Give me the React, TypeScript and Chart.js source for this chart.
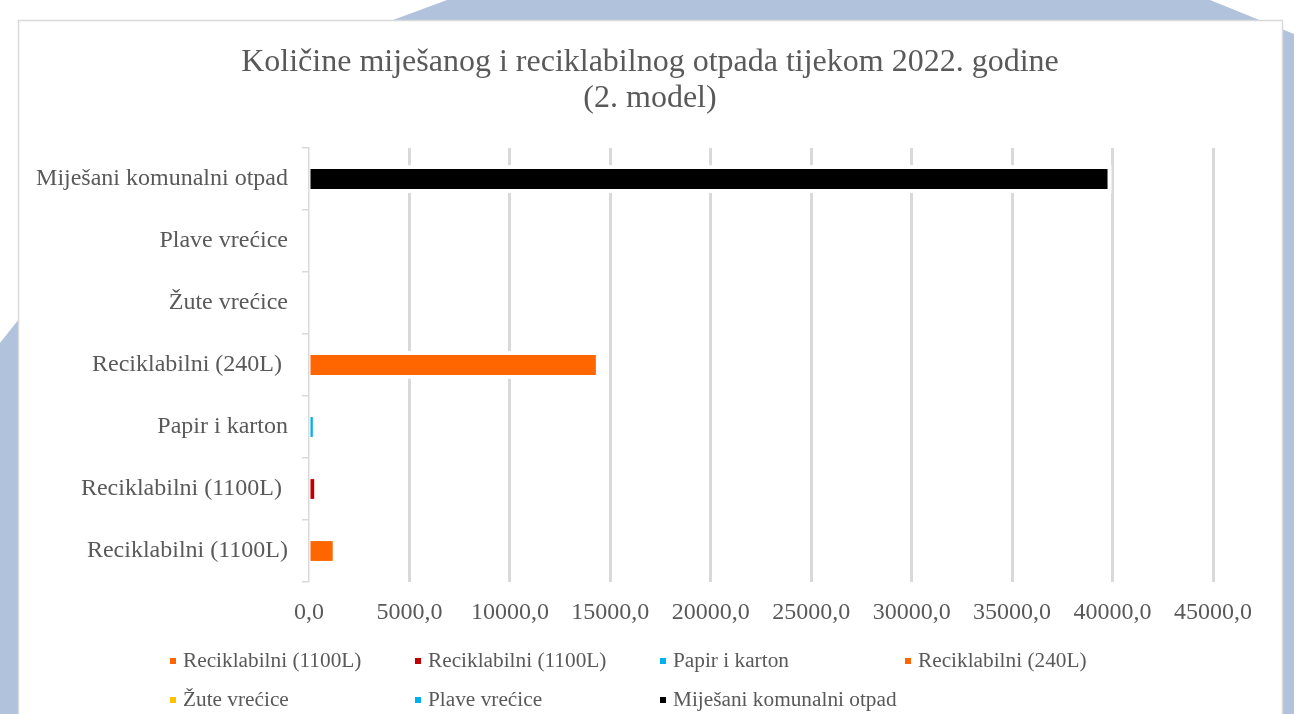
import React, { useEffect, useRef } from "react";
import { Chart, registerables } from "chart.js";

Chart.register(...registerables);

// Categories in Excel order (first = bottom row)
const categories = [
  "Reciklabilni (1100L)",
  "Reciklabilni (1100L) ",
  "Papir i karton",
  "Reciklabilni (240L) ",
  "Žute vrećice",
  "Plave vrećice",
  "Miješani komunalni otpad",
];

const seriesNames = [
  "Reciklabilni (1100L)",
  "Reciklabilni (1100L)",
  "Papir i karton",
  "Reciklabilni (240L)",
  "Žute vrećice",
  "Plave vrećice",
  "Miješani komunalni otpad",
];

const seriesColors = ["#FF6600", "#C00000", "#00B0F0", "#FF6600", "#FFC000", "#00B0F0", "#000000"];

// One value per series, each belonging to its own category
const seriesValues = [1180, 260, 190, 14280, 0, 0, 39750];

const titleLines = ["Količine miješanog i reciklabilnog otpada tijekom 2022. godine", "(2. model)"];

const xTickMax = 45000;
const xTickStep = 5000;

const FONT = '"Liberation Serif", "Times New Roman", serif';
const TEXT = "#595959";
const GRID = "#d9d9d9";
const BG_BLUE = "#b1c2dd";

const backgroundPlugin = {
  id: "pageBackground",
  beforeDraw(chart: any) {
    const ctx = chart.ctx;
    ctx.save();
    ctx.fillStyle = "#ffffff";
    ctx.fillRect(0, 0, chart.width, chart.height);
    ctx.fillStyle = BG_BLUE;
    ctx.beginPath();
    ctx.moveTo(447, 0);
    ctx.lineTo(1210, 0);
    ctx.lineTo(1294, 34);
    ctx.lineTo(1294, 714);
    ctx.lineTo(1000, 714);
    ctx.lineTo(393, 20);
    ctx.closePath();
    ctx.fill();
    ctx.beginPath();
    ctx.moveTo(0, 343);
    ctx.lineTo(19, 319);
    ctx.lineTo(19, 714);
    ctx.lineTo(0, 714);
    ctx.closePath();
    ctx.fill();
    // white chart box
    ctx.fillStyle = "#ffffff";
    ctx.fillRect(18.5, 20.5, 1264, 720);
    ctx.strokeStyle = GRID;
    ctx.lineWidth = 1.5;
    ctx.strokeRect(18.5, 20.5, 1264, 720);
    // title
    ctx.fillStyle = TEXT;
    ctx.font = `32px ${FONT}`;
    ctx.textAlign = "center";
    ctx.textBaseline = "middle";
    ctx.fillText(titleLines[0], 650, 63);
    ctx.fillText(titleLines[1], 650, 99);
    ctx.restore();
  },
};

const haloPlugin = {
  id: "barHalo",
  beforeDatasetsDraw(chart: any) {
    const ctx = chart.ctx;
    ctx.save();
    ctx.fillStyle = "#ffffff";
    chart.data.datasets.forEach((ds: any, i: number) => {
      const meta = chart.getDatasetMeta(i);
      meta.data.forEach((el: any, j: number) => {
        const v = ds.data[j];
        if (v === null || v === undefined || v === 0) return;
        const p = el.getProps(["x", "y", "base", "height"], true);
        const left = p.base + 1;
        const right = p.x + 4;
        ctx.fillRect(left, p.y - p.height / 2 - 4, right - left, p.height + 8);
      });
    });
    ctx.restore();
  },
};

const legendPlugin = {
  id: "gridLegend",
  afterDraw(chart: any) {
    const ctx = chart.ctx;
    ctx.save();
    ctx.font = `21.3px ${FONT}`;
    ctx.textBaseline = "middle";
    ctx.textAlign = "left";
    chart.data.datasets.forEach((ds: any, i: number) => {
      const col = i % 4;
      const row = Math.floor(i / 4);
      const x = 170 + col * 245;
      const y = 661 + row * 39;
      ctx.fillStyle = ds.backgroundColor;
      ctx.fillRect(x, y - 3, 6, 6);
      ctx.fillStyle = TEXT;
      ctx.fillText(ds.label, x + 13, y);
    });
    ctx.restore();
  },
};

export default function App() {
  const ref = useRef<HTMLCanvasElement | null>(null);

  useEffect(() => {
    if (!ref.current) return;
    const datasets = seriesNames.map((name, i) => ({
      label: name,
      data: categories.map((_, j) => (j === i ? seriesValues[i] : null)),
      backgroundColor: seriesColors[i],
      borderWidth: 0,
      grouped: false,
      barPercentage: 0.32,
      categoryPercentage: 1,
    }));
    const chart = new Chart(ref.current, {
      type: "bar",
      data: { labels: categories, datasets },
      plugins: [backgroundPlugin, haloPlugin, legendPlugin],
      options: {
        indexAxis: "y",
        responsive: false,
        animation: false,
        layout: { padding: { top: 148, right: 81, bottom: 82, left: 0 } },
        plugins: {
          legend: { display: false },
          title: { display: false },
          tooltip: { enabled: false },
        },
        scales: {
          x: {
            min: 0,
            max: xTickMax,
            afterFit: (s: any) => {
              s.height = 50;
            },
            ticks: {
              stepSize: xTickStep,
              color: TEXT,
              padding: 16,
              font: { family: FONT, size: 24 },
              callback: (v: any) => Number(v).toFixed(1).replace(".", ","),
            },
            grid: {
              drawTicks: false,
              lineWidth: 3,
              color: (c: any) => (c.tick && c.tick.value === 0 ? "rgba(0,0,0,0)" : GRID),
            },
            border: { display: false },
          },
          y: {
            reverse: true,
            afterFit: (s: any) => {
              s.width = 309;
            },
            ticks: {
              color: TEXT,
              padding: 14,
              font: { family: FONT, size: 24 },
            },
            grid: {
              drawOnChartArea: false,
              drawTicks: true,
              tickLength: 7,
              color: GRID,
              lineWidth: 1.5,
            },
            border: { display: true, color: GRID, width: 1.5 },
          },
        },
      },
    });
    return () => chart.destroy();
  }, []);

  return (
    <div style={{ position: "fixed", left: 0, top: 0, width: 1294, height: 714 }}>
      <canvas ref={ref} width={1294} height={714} style={{ width: 1294, height: 714, display: "block" }} />
    </div>
  );
}
